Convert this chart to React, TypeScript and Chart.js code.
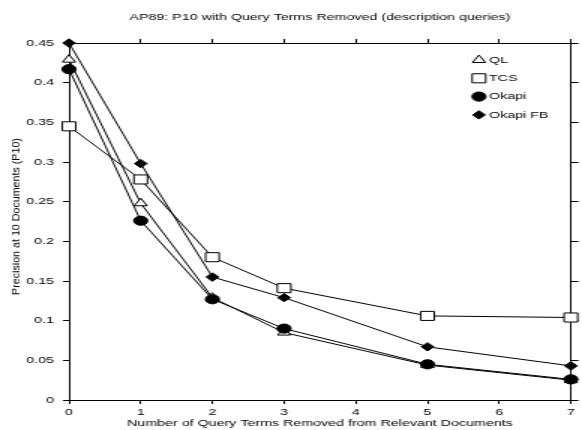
import React, { useEffect, useRef } from 'react';
import { Chart, registerables } from 'chart.js';
import { drawPoint } from 'chart.js/helpers';

Chart.register(...registerables);

// The reference figure is horizontally stretched; the canvas is drawn narrower and scaled by CSS.
const STRETCH = 1.5;
const CANVAS_W = 388;
const CANVAS_H = 430;
const FONT_FAMILY = '"Liberation Sans", Arial, Helvetica, sans-serif';

const chartTitle = 'AP89: P10 with Query Terms Removed (description queries)';
const xAxisTitle = 'Number of Query Terms Removed from Relevant Documents';
const yAxisTitle = 'Precision at 10 Documents (P10)';

const termsRemoved = [0, 1, 2, 3, 5, 7];
const seriesLabels = ['QL', 'TCS', 'Okapi', 'Okapi FB'];
const qlValues = [0.429, 0.248, 0.129, 0.085, 0.044, 0.025];
const tcsValues = [0.345, 0.278, 0.180, 0.141, 0.106, 0.104];
const okapiValues = [0.417, 0.226, 0.127, 0.090, 0.045, 0.026];
const okapiFbValues = [0.450, 0.298, 0.155, 0.129, 0.067, 0.043];

const xMin = 0;
const xMax = 7;
const xStep = 1;
const yMin = 0;
const yMax = 0.45;
const yStep = 0.05;

const black = '#000000';

function toPoints(values: number[]) {
  return termsRemoved.map((x, i) => ({ x, y: values[i] }));
}

const legendPlugin = {
  id: 'cornerLegend',
  afterDraw(chart: any) {
    const { ctx, chartArea } = chart;
    ctx.save();
    chart.data.datasets.forEach((ds: any, i: number) => {
      const y = chartArea.top + 17 + i * 18.3;
      const mx = chartArea.right - 61.3;
      ctx.fillStyle = ds.pointBackgroundColor;
      ctx.strokeStyle = black;
      ctx.lineWidth = 1;
      drawPoint(ctx, { pointStyle: ds.pointStyle, radius: ds.pointRadius, rotation: 0, borderWidth: 1 }, mx, y);
      ctx.fillStyle = black;
      ctx.font = `9.5px ${FONT_FAMILY}`;
      ctx.textAlign = 'left';
      ctx.textBaseline = 'middle';
      ctx.fillText(ds.label, chartArea.right - 54.6, y);
    });
    ctx.restore();
  },
};

const yTitlePlugin = {
  id: 'yTitle',
  afterDraw(chart: any) {
    const { ctx, chartArea } = chart;
    ctx.save();
    ctx.translate(10.7, (chartArea.top + chartArea.bottom) / 2 - 5);
    ctx.scale(1 / STRETCH, 1);
    ctx.rotate(-Math.PI / 2);
    ctx.fillStyle = black;
    ctx.font = `10.7px ${FONT_FAMILY}`;
    ctx.textAlign = 'center';
    ctx.textBaseline = 'middle';
    ctx.fillText(yAxisTitle, 0, 0);
    ctx.restore();
  },
};

const tickFont = { family: FONT_FAMILY, size: 9.5, weight: 'normal' as const };

function gridOpts(tickLength: number) {
  return {
    display: true,
    drawOnChartArea: false,
    drawTicks: true,
    tickLength,
    color: black,
    lineWidth: 1,
  };
}

const borderOpts = { display: true, color: black, width: 1 };

export default function App() {
  const canvasRef = useRef<HTMLCanvasElement | null>(null);

  useEffect(() => {
    const canvas = canvasRef.current;
    if (!canvas) return;
    const markerStyles = [
      { pointStyle: 'triangle', radius: 5, fill: '#ffffff', order: 2 },
      { pointStyle: 'rect', radius: 6.4, fill: '#ffffff', order: 1 },
      { pointStyle: 'circle', radius: 4.6, fill: black, order: 0 },
      { pointStyle: 'rectRot', radius: 4.2, fill: black, order: 0 },
    ];
    const seriesValues = [qlValues, tcsValues, okapiValues, okapiFbValues];
    const datasets = seriesLabels.map((label, i) => ({
      label,
      data: toPoints(seriesValues[i]),
      borderColor: black,
      borderWidth: 1,
      backgroundColor: markerStyles[i].fill,
      pointStyle: markerStyles[i].pointStyle,
      pointRadius: markerStyles[i].radius,
      pointBackgroundColor: markerStyles[i].fill,
      pointBorderColor: black,
      pointBorderWidth: 1,
      tension: 0,
      fill: false,
      clip: false,
      order: markerStyles[i].order,
    }));

    const chart = new Chart(canvas, {
      type: 'line',
      data: { datasets } as any,
      options: {
        responsive: false,
        maintainAspectRatio: false,
        animation: false,
        devicePixelRatio: 1,
        layout: { padding: 0 },
        plugins: {
          legend: { display: false },
          tooltip: { enabled: false },
          title: {
            display: true,
            text: chartTitle,
            fullSize: false,
            color: black,
            font: { family: FONT_FAMILY, size: 9.5, weight: 'normal' },
            padding: { top: 11.3, bottom: 16.3 },
          },
        },
        scales: {
          x: {
            type: 'linear',
            position: 'bottom',
            min: xMin,
            max: xMax,
            ticks: { stepSize: xStep, color: black, font: tickFont, padding: 3, maxRotation: 0, autoSkip: false },
            grid: gridOpts(4),
            border: borderOpts,
            title: {
              display: true,
              text: xAxisTitle,
              color: black,
              font: tickFont,
              padding: { top: 0, bottom: 1 },
            },
            afterFit: (s: any) => {
              s.height = 30;
            },
          },
          x2: {
            type: 'linear',
            position: 'top',
            min: xMin,
            max: xMax,
            ticks: { stepSize: xStep, display: false },
            grid: gridOpts(4),
            border: borderOpts,
            afterFit: (s: any) => {
              s.height = 4;
            },
          },
          y: {
            type: 'linear',
            position: 'left',
            min: yMin,
            max: yMax,
            ticks: {
              stepSize: yStep,
              color: black,
              font: tickFont,
              padding: 6,
              callback: (v: any) => String(Math.round(Number(v) * 100) / 100),
            },
            grid: gridOpts(4),
            border: borderOpts,
            afterFit: (s: any) => {
              s.width = 46;
            },
          },
          y2: {
            type: 'linear',
            position: 'right',
            min: yMin,
            max: yMax,
            ticks: { stepSize: yStep, display: false },
            grid: gridOpts(5),
            border: borderOpts,
            afterFit: (s: any) => {
              s.width = CANVAS_W - 383.3;
            },
          },
        },
      } as any,
      plugins: [legendPlugin, yTitlePlugin],
    });
    return () => chart.destroy();
  }, []);

  return (
    <div style={{ position: 'absolute', left: 0, top: 0, width: CANVAS_W * STRETCH, height: CANVAS_H, background: '#fff' }}>
      <canvas
        ref={canvasRef}
        width={CANVAS_W}
        height={CANVAS_H}
        style={{ width: `${CANVAS_W * STRETCH}px`, height: `${CANVAS_H}px`, display: 'block' }}
      />
    </div>
  );
}
